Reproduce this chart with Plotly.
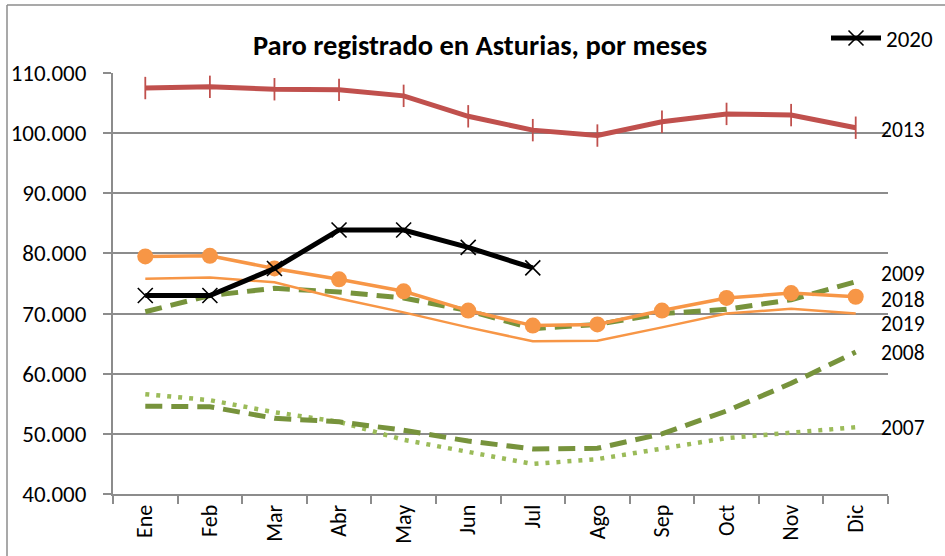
import plotly.graph_objects as go

months = ["Ene", "Feb", "Mar", "Abr", "May", "Jun", "Jul", "Ago", "Sep", "Oct", "Nov", "Dic"]

y2007 = [56600, 55600, 53600, 52000, 49000, 47000, 45000, 45800, 47500, 49300, 50200, 51100]
y2008 = [54600, 54500, 52600, 52000, 50600, 48800, 47500, 47600, 50000, 53800, 58400, 63600]
y2009 = [70300, 73000, 74200, 73600, 72600, 70500, 67500, 68200, 70000, 70700, 72300, 75300]
y2019 = [75800, 76000, 75200, 72500, 70200, 67700, 65400, 65500, 67700, 70000, 70800, 70000]
y2018 = [79500, 79600, 77500, 75700, 73700, 70500, 68000, 68200, 70500, 72600, 73400, 72800]
y2013 = [107500, 107700, 107300, 107200, 106200, 102800, 100500, 99600, 101900, 103200, 103000, 100900]
y2020 = [73000, 73000, 77500, 83900, 83900, 81000, 77600]

title_text = "Paro registrado en Asturias, por meses"
label_years = ["2013", "2009", "2018", "2019", "2008", "2007"]
label_yvals = [100500, 76600, 72300, 68300, 63400, 51000]

FONT = "Carlito, Calibri, Lato, sans-serif"
GREEN_D = "#77933C"
GREEN_L = "#9BBB59"
ORANGE = "#F79646"
RED = "#C0504D"
GRID = "#8C8C8C"

fig = go.Figure()

fig.add_trace(go.Scatter(x=months, y=y2007, mode="lines", name="2007", showlegend=False,
                         line=dict(color=GREEN_L, width=4.5, dash="4px,7px")))
fig.add_trace(go.Scatter(x=months, y=y2008, mode="lines", name="2008", showlegend=False,
                         line=dict(color=GREEN_D, width=5, dash="17px,9px")))
fig.add_trace(go.Scatter(x=months, y=y2009, mode="lines", name="2009", showlegend=False,
                         line=dict(color=GREEN_D, width=5, dash="17px,9px")))
fig.add_trace(go.Scatter(x=months, y=y2019, mode="lines", name="2019", showlegend=False,
                         line=dict(color=ORANGE, width=2.5)))
fig.add_trace(go.Scatter(x=months, y=y2018, mode="lines+markers", name="2018", showlegend=False,
                         line=dict(color=ORANGE, width=3.5),
                         marker=dict(symbol="circle", size=16, color=ORANGE)))
fig.add_trace(go.Scatter(x=months, y=y2013, mode="lines+markers", name="2013", showlegend=False,
                         line=dict(color=RED, width=5),
                         marker=dict(symbol="line-ns", size=16, color=RED,
                                     line=dict(color=RED, width=1.8))))
fig.add_trace(go.Scatter(x=months[:len(y2020)], y=y2020, mode="lines+markers", name="2020",
                         showlegend=True,
                         line=dict(color="black", width=5),
                         marker=dict(symbol="x-thin", size=15, color="black",
                                     line=dict(color="black", width=1.6))))

annotations = [
    dict(text="<b>" + title_text + "</b>", xref="paper", yref="paper",
         x=(480 - 113) / 775, y=(494 - 45) / 421, xanchor="center", yanchor="middle",
         showarrow=False, font=dict(family=FONT, size=28.5, color="black"))
]
for yr, yv in zip(label_years, label_yvals):
    annotations.append(dict(text=yr, xref="paper", yref="y", x=(879 - 113) / 775, y=yv,
                            xanchor="left", yanchor="middle", showarrow=False,
                            font=dict(family=FONT, size=21.5, color="black")))

bx = (7 - 113) / 775
by = (494 - 5) / 421
shapes = [
    dict(type="line", xref="paper", yref="paper", x0=bx, x1=bx, y0=by, y1=-0.3,
         line=dict(color=GRID, width=1.5)),
    dict(type="line", xref="paper", yref="paper", x0=bx, x1=1.2, y0=by, y1=by,
         line=dict(color=GRID, width=1.5)),
]

fig.update_layout(
    width=945, height=556,
    margin=dict(l=113, r=57, t=73, b=62, autoexpand=False),
    paper_bgcolor="white", plot_bgcolor="white",
    separators=",.",
    font=dict(family=FONT, size=22, color="black"),
    showlegend=True,
    legend=dict(xref="container", yref="container", x=826 / 945, y=1 - 38 / 556,
                xanchor="left", yanchor="middle",
                bgcolor="rgba(0,0,0,0)", font=dict(family=FONT, size=23, color="black"),
                itemwidth=50, tracegroupgap=0),
    annotations=annotations,
    shapes=shapes,
    xaxis=dict(type="category", categoryorder="array", categoryarray=months,
               range=[-0.5, 11.5], tickson="boundaries", ticks="outside", ticklen=8,
               tickcolor=GRID, tickwidth=1.5, showline=True, linecolor=GRID, linewidth=2,
               showgrid=False, tickangle=-90, automargin=False,
               tickfont=dict(family=FONT, size=22, color="black")),
    yaxis=dict(range=[40000, 110000], dtick=10000, tick0=40000, tickformat=",.0f",
               showgrid=True, gridcolor=GRID, gridwidth=2, ticks="outside", ticklen=8,
               tickcolor=GRID, tickwidth=2, showline=True, linecolor=GRID, linewidth=2,
               zeroline=False, automargin=False, ticklabelstandoff=12,
               tickfont=dict(family=FONT, size=23, color="black")),
)

fig.write_html("out.html", config={"displayModeBar": False},
               post_script="document.body.style.margin='0';document.body.style.padding='0';")
